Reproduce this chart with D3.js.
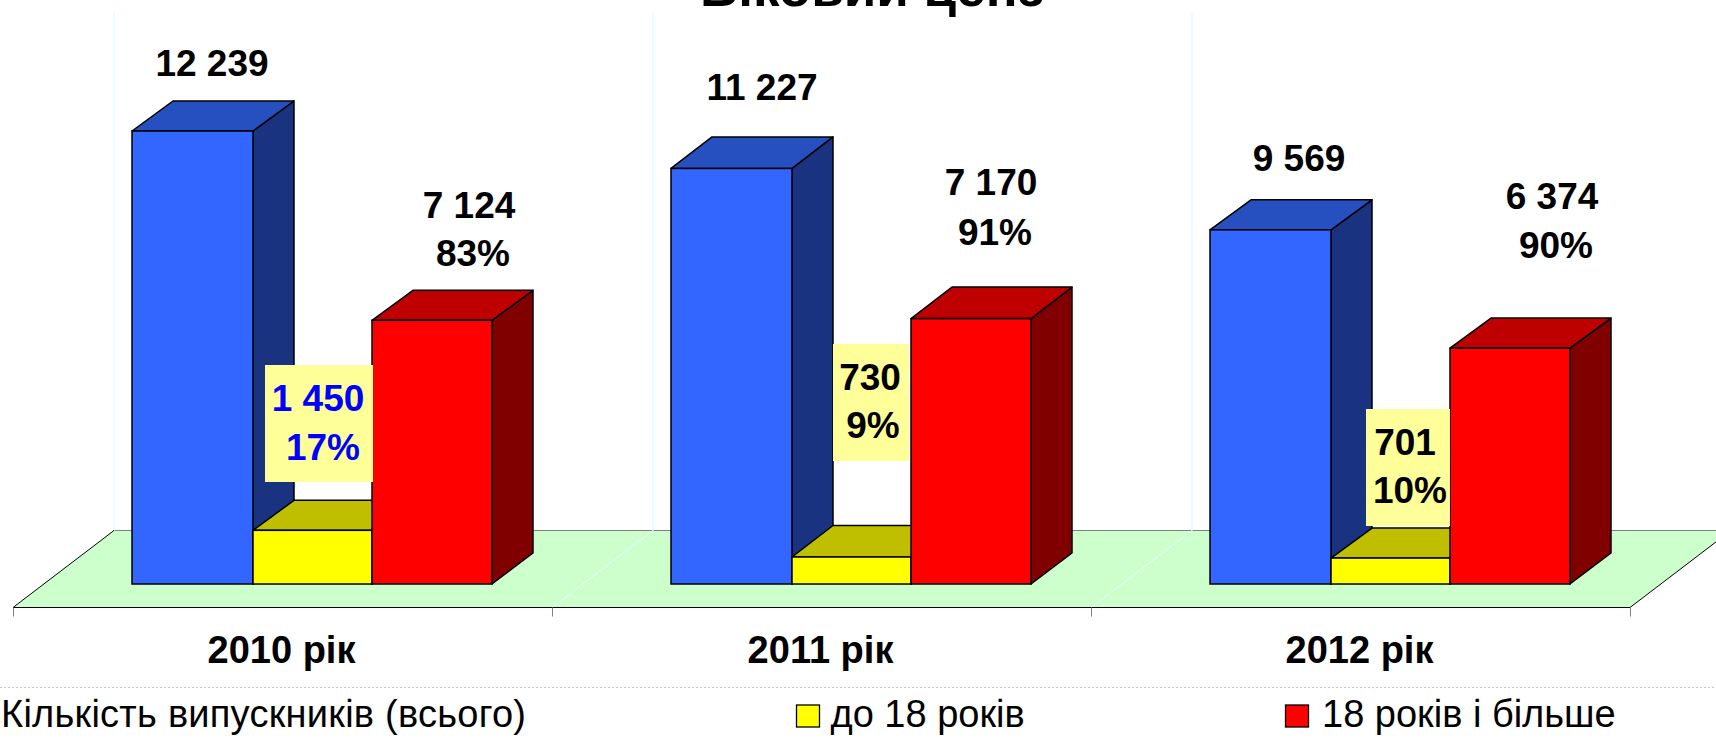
<!DOCTYPE html>
<html>
<head>
<meta charset="utf-8">
<script src="https://cdn.jsdelivr.net/npm/d3@7"></script>
<style>
  html, body { margin: 0; padding: 0; background: #fff; overflow: hidden; }
  svg { display: block; }
  text { font-family: "Liberation Sans", Arial, sans-serif; }
</style>
</head>
<body>
<div id="wrapper"></div>
<script>
// chart values
const years = ["2010 рік", "2011 рік", "2012 рік"]
const seriesNames = ["Кількість випускників (всього)", "до 18 років", "18 років і більше"]
const totalValues = [12239, 11227, 9569]
const under18Values = [1450, 730, 701]
const over18Values = [7124, 7170, 6374]
const under18Percent = ["17%", "9%", "10%"]
const over18Percent = ["83%", "91%", "90%"]
const titleText = "Віковий ценз"

// hand placed labels, same as the original slide: shift from the bar's front top centre
const totalNudge = [[20, -55], [31, -68], [29, -59]]
const over18Nudge = [[37, -102, 41, -54], [20, -124, 24, -74], [42, -139, 46, -90]]
const under18Box = [[265, 365, 373, 482], [833, 344, 909, 461], [1366, 409, 1450, 526]]
const under18Text = [[318, 411, 323, 460], [870, 390, 873, 438], [1405, 455, 1410, 503]]
const under18Color = ["#0000ff", "#000", "#000"]
// top face depth differs a little per group in the original
const depthByYear = [30, 31.5, 30]

function drawChart() {
  //1_Dimensions
  const dimensions = {
    width: 1716,
    height: 739,
    left: 13,
    right: 1630,
    base: 584,
    floorFront: 607.5,
    floorBack: 530.5,
    floorDx: 101,
    wallTop: 13,
    barDx: 41,
    barDyBottom: 31,
    fontSize: 37,
  }
  const d = dimensions

  const series = [
    { name: seriesNames[0], values: totalValues, trim: [0, 1], front: "#3366ff", top: "#2650bf", side: "#1a3380" },
    { name: seriesNames[1], values: under18Values, trim: [1, 0], front: "#ffff00", top: "#bfbf00", side: "#808000" },
    { name: seriesNames[2], values: over18Values, trim: [0, 0], front: "#ff0000", top: "#bf0000", side: "#800000" },
  ]

  //2_Canvas
  const svg = d3.select("#wrapper").append("svg")
      .attr("width", d.width)
      .attr("height", d.height)

  //3_Scales
  const xScale = d3.scaleBand()
      .domain(years)
      .range([d.left, d.right])
  const barScale = d3.scaleBand()
      .domain(seriesNames)
      .range([119, 479])
  const yScale = d3.scaleLinear()
      .domain([0, d3.max(totalValues)])
      .range([d.base, 131])

  //4_Floor and walls
  const edges = years.map(y => xScale(y)).concat(d.right)
  svg.append("polygon")
      .attr("points", [
        [d.left, d.floorFront],
        [d.left + d.floorDx, d.floorBack],
        [d.right + d.floorDx, d.floorBack],
        [d.right, d.floorFront],
      ].join(" "))
      .attr("fill", "#ccffcc")

  svg.append("line")
      .attr("x1", d.left + d.floorDx).attr("x2", d.right + d.floorDx)
      .attr("y1", d.floorBack).attr("y2", d.floorBack)
      .attr("stroke", "#808080")
      .attr("stroke-width", 1)

  svg.selectAll(".wall")
      .data(edges)
      .join("line")
      .attr("class", "wall")
      .attr("x1", e => e + d.floorDx).attr("x2", e => e + d.floorDx)
      .attr("y1", d.wallTop).attr("y2", d.floorBack)
      .attr("stroke", "#e6ffff")
      .attr("stroke-width", 2)

  // inner floor lines are pale, the two outer ones black
  svg.selectAll(".floorline")
      .data(edges)
      .join("line")
      .attr("class", "floorline")
      .attr("x1", e => e).attr("y1", d.floorFront)
      .attr("x2", e => e + d.floorDx).attr("y2", d.floorBack)
      .attr("stroke", (e, i) => (i === 0 || i === edges.length - 1) ? "#000" : "#e6ffff")
      .attr("stroke-width", 1)

  //5_Bars
  const barGroups = svg.selectAll(".year")
      .data(years)
      .join("g")
      .attr("class", "year")
      .attr("transform", y => `translate(${xScale(y)}, 0)`)

  series.forEach(s => {
    const x0 = barScale(s.name) + s.trim[0]
    const x1 = barScale(s.name) + barScale.bandwidth() + s.trim[1]
    const value = (y, i) => yScale(s.values[i])
    const bars = barGroups.append("g")
    const shape = pts => pts.map(p => p.join(",")).join(" ")

    bars.append("polygon")
        .attr("points", (y, i) => shape([
          [x1, value(y, i)],
          [x1 + d.barDx, value(y, i) - depthByYear[i]],
          [x1 + d.barDx, d.base - d.barDyBottom],
          [x1, d.base],
        ]))
        .attr("fill", s.side)
    bars.append("polygon")
        .attr("points", (y, i) => shape([
          [x0, value(y, i)],
          [x0 + d.barDx, value(y, i) - depthByYear[i]],
          [x1 + d.barDx, value(y, i) - depthByYear[i]],
          [x1, value(y, i)],
        ]))
        .attr("fill", s.top)
    bars.selectAll("polygon")
        .attr("stroke", "#000")
        .attr("stroke-width", 1.5)
        .attr("stroke-linejoin", "round")
    bars.append("rect")
        .attr("x", x0)
        .attr("y", (y, i) => value(y, i))
        .attr("width", x1 - x0)
        .attr("height", (y, i) => d.base - value(y, i))
        .attr("fill", s.front)
        .attr("stroke", "#000")
        .attr("stroke-width", 1.5)
  })

  //6_Axis
  svg.append("line")
      .attr("x1", d.left).attr("x2", d.right)
      .attr("y1", d.floorFront).attr("y2", d.floorFront)
      .attr("stroke", "#000")
      .attr("stroke-width", 1)
  svg.selectAll(".tick-mark")
      .data(edges)
      .join("line")
      .attr("class", "tick-mark")
      .attr("x1", e => e + 0.5).attr("x2", e => e + 0.5)
      .attr("y1", d.floorFront).attr("y2", d.floorFront + 9)
      .attr("stroke", "#808080")
      .attr("stroke-width", 1)

  const xAxis = d3.axisBottom(xScale).tickSize(0).tickPadding(0)
  const xAxisGroup = svg.append("g")
      .attr("transform", `translate(-1, ${d.floorFront})`)
      .call(xAxis)
  xAxisGroup.select(".domain").remove()
  xAxisGroup.selectAll("text")
      .attr("dy", null)
      .attr("y", 55)
      .attr("fill", "#000")
      .style("font-size", "38px")
      .style("font-family", "'Liberation Sans', Arial, sans-serif")
      .style("font-weight", "bold")

  //7_Labels
  const label = (text, x, y, color) => svg.append("text")
      .attr("x", x)
      .attr("y", y)
      .attr("text-anchor", "middle")
      .attr("fill", color || "#000")
      .style("font-size", `${d.fontSize}px`)
      .style("font-weight", "bold")
      .style("white-space", "pre")
      .text(text)
  const formatValue = v => d3.format(",")(v).replace(",", " ")

  years.forEach((y, i) => {
    const totalX = xScale(y) + barScale(seriesNames[0]) + barScale.bandwidth() / 2
    label(formatValue(totalValues[i]), totalX + totalNudge[i][0], yScale(totalValues[i]) + totalNudge[i][1])

    const overX = xScale(y) + barScale(seriesNames[2]) + barScale.bandwidth() / 2
    const overY = yScale(over18Values[i])
    label(formatValue(over18Values[i]), overX + over18Nudge[i][0], overY + over18Nudge[i][1])
    label(over18Percent[i], overX + over18Nudge[i][2], overY + over18Nudge[i][3])

    const box = under18Box[i]
    svg.append("rect")
        .attr("x", box[0])
        .attr("y", box[1])
        .attr("width", box[2] - box[0])
        .attr("height", box[3] - box[1])
        .attr("fill", "#ffff99")
    const t = under18Text[i]
    label(formatValue(under18Values[i]), t[0], t[1], under18Color[i])
    label(under18Percent[i], t[2], t[3], under18Color[i])
  })

  // title is cut off by the top of the slide
  svg.append("text")
      .attr("x", 872)
      .attr("y", 6)
      .attr("text-anchor", "middle")
      .attr("fill", "#000")
      .style("font-size", "53px")
      .style("font-weight", "bold")
      .text(titleText)

  //8_Legend
  svg.append("line")
      .attr("x1", 0).attr("x2", d.width)
      .attr("y1", 687.5).attr("y2", 687.5)
      .attr("stroke", "#c8c8c8")
      .attr("stroke-width", 1)
      .attr("stroke-dasharray", "2 2")

  const legendX = [-34, 796.5, 1285.5]
  const legend = svg.selectAll(".legend")
      .data(series)
      .join("g")
      .attr("class", "legend")
      .attr("transform", (s, i) => `translate(${legendX[i]}, 705)`)
  legend.append("rect")
      .attr("width", 23)
      .attr("height", 22)
      .attr("fill", s => s.front)
      .attr("stroke", "#000")
      .attr("stroke-width", 1.3)
  legend.append("text")
      .attr("x", (s, i) => i === 2 ? 36.5 : i === 0 ? 35 : 34)
      .attr("y", 22)
      .attr("fill", "#000")
      .style("font-size", "38px")
      .style("letter-spacing", (s, i) => i === 0 ? "0.25px" : null)
      .text(s => s.name)
}
drawChart()
</script>
</body>
</html>
